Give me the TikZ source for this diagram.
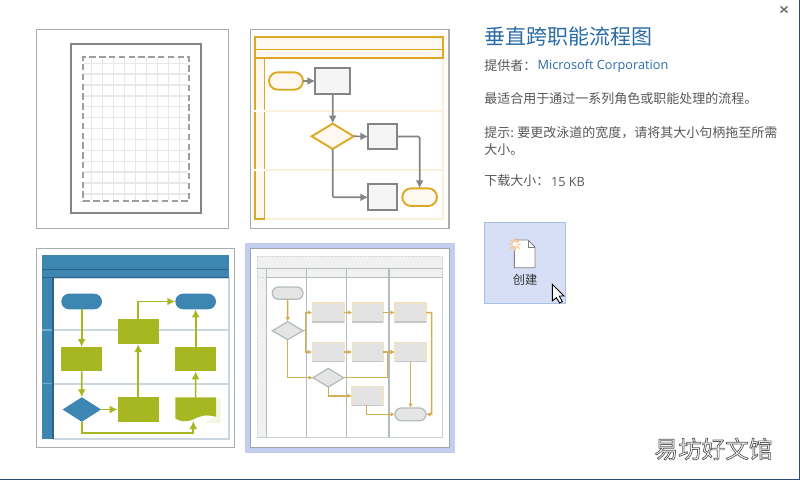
\documentclass[tikz,border=0pt]{standalone}
\usepackage{fontspec}
\setmainfont{Noto Sans CJK SC}
\newfontfamily\latfont{Open Sans}
\usetikzlibrary{arrows.meta,shapes.geometric,shapes.misc,patterns.meta,calc}
\definecolor{panelb}{HTML}{ABABAB}
\definecolor{gold}{HTML}{DFA822}
\definecolor{goldlt}{HTML}{FBF0DA}
\definecolor{cream}{HTML}{FFF8F0}
\definecolor{gr}{HTML}{858585}
\definecolor{blu}{HTML}{3E86B2}
\definecolor{bludk}{HTML}{2C6288}
\definecolor{lane}{HTML}{CAD7E0}
\definecolor{grn}{HTML}{A6B722}
\definecolor{selb}{HTML}{C2CEF0}
\definecolor{ochre}{HTML}{D2AE55}
\definecolor{band}{HTML}{F0F0F0}
\definecolor{sl}{HTML}{B2BEBB}
\definecolor{titlec}{HTML}{2B6CA8}
\definecolor{txt}{HTML}{585858}
\definecolor{btn}{HTML}{D6DFF6}
\definecolor{btnb}{HTML}{A9BEE5}
\definecolor{edge}{HTML}{2B4C80}
\newcommand\pxbox[6][]{\node[#1,minimum width={#5-#3},minimum height={#6-#4}] (#2) at ({(#3+#5)/2},{(#4+#6)/2}) {};}
\newcommand\fwcomma{\symbol{"FF0C}}
\newcommand\fwcolon{\symbol{"FF1A}}
\tikzset{
 base/.style={inner sep=0pt,outer sep=0pt},
 panel/.style={base,draw=panelb,line width=1.1pt,fill=white},
 rtwo/.style={base,draw=gr,line width=2pt,fill=black!4},
 ttwo/.style={base,draw=gold,line width=1.9pt,fill=cream,rounded rectangle},
 dtwo/.style={base,draw=gold,line width=1.9pt,fill=cream,diamond,aspect=1.65},
 atwo/.style={draw=gr,line width=1.7pt,rounded corners=1.5pt,-{Latex[length=8pt,width=8pt]}},
 bandtwo/.style={base,draw=gold,line width=1.6pt,fill=cream},
 bfill/.style={base,fill=blu},
 gfill/.style={base,fill=grn},
 athree/.style={draw=grn,line width=1.7pt,-{Latex[length=8pt,width=8pt]}},
 hatch/.style={base,draw=sl!60,line width=.8pt,fill=band,postaction={pattern={Lines[angle=45,distance=2.6pt,line width=.9pt]},pattern color=black!5}},
 rfour/.style={base,draw=ochre!35,line width=1.2pt,fill=black!11},
 tfour/.style={base,draw=sl,line width=1.3pt,fill=black!10,rounded rectangle},
 dfour/.style={base,draw=sl,line width=1.3pt,fill=black!10,diamond,aspect=1.65},
 afour/.style={draw=ochre,line width=1.5pt,-{Latex[length=4.5pt,width=4.5pt]}},
 lbl/.style={base,anchor=west,text=txt,font=\fontsize{13pt}{15pt}\selectfont},
}
\begin{document}
\begin{tikzpicture}[x=1pt,y=-1pt]
\useasboundingbox (0,0) rectangle (800,480);
\fill[white] (0,0) rectangle (800,480);
\draw[edge,line width=1pt] (0,479.5) -- (799.5,479.5) -- (799.5,0);
% panel 1
\pxbox[panel]{pa}{36.5}{29.5}{228.5}{228.5}
\foreach \x in {91.7,102.7,113.7,124.7,135.7,146.7,157.3,168.3,179.3}
  \draw[black!9,line width=1.2pt] (\x,58) -- (\x,200);
\foreach \y in {63.3,74,85,96,106.7,117.7,128.3,139.3,150.3,161.3,172,183,194}
  \draw[black!9,line width=1.2pt] (84,\y) -- (188,\y);
\pxbox[base,draw=black!38,line width=1.8pt,dash pattern=on 6.4pt off 3.4pt]{pai}{83.3}{56.7}{188.7}{201.3}
\pxbox[base,draw=gr,line width=2.2pt]{pao}{71.3}{44.3}{200.7}{213}
% panel 2
\pxbox[panel]{pb}{250.5}{29.5}{449}{228.5}
\draw[goldlt,line width=1.7pt] (264,58) -- (442.7,58) -- (442.7,219) -- (264,219);
\draw[goldlt,line width=1.7pt] (264,110.7) -- (442.7,110.7) (264,169.7) -- (442.7,169.7);
\pxbox[bandtwo]{pbh}{255}{36.7}{442.7}{49.3}
\pxbox[bandtwo]{pbs}{255}{49.3}{442.7}{58}
\pxbox[bandtwo]{pbl}{255}{58}{264.3}{219}
\draw[white,line width=1.6pt] (254,110.7) -- (265.2,110.7) (254,169.7) -- (265.2,169.7);
\pxbox[ttwo]{bt}{269}{72.3}{303}{89.7}
\pxbox[rtwo]{br}{315.3}{68}{350}{94}
\node[dtwo,minimum width=42pt,minimum height=25.4pt] (bd) at (332.7,136.3) {};
\pxbox[rtwo]{brb}{368.3}{123.7}{396.7}{149.3}
\pxbox[rtwo]{brc}{368.3}{184.3}{396.7}{210.3}
\pxbox[ttwo]{bte}{402.3}{188.3}{437}{206}
\draw[atwo] (bt) -- (br);
\draw[atwo] (br) -- (bd);
\draw[atwo] (bd.east) -- (brb.west);
\draw[atwo] (brb.east) -| (bte.north);
\draw[atwo] (bd.south) |- (brc.west);
% panel 3
\pxbox[panel]{pc}{36.5}{248.7}{234.5}{447.3}
\draw[lane,line width=1.6pt] (53,277.7) -- (229,277.7) -- (229,439) -- (53,439);
\draw[lane,line width=1.6pt] (42,330) -- (229,330) (42,383.7) -- (229,383.7);
\pxbox[bfill]{ch}{42}{255.3}{229}{269.3}
\pxbox[bfill]{cs}{42}{269.3}{229}{277.7}
\pxbox[bfill]{cl}{42}{277.7}{53}{439}
\draw[bludk,line width=1.1pt] (42,269.3) -- (229,269.3);
\draw[bludk,line width=1.1pt] (42,277.7) -- (229,277.7);
\draw[bludk,line width=1.1pt] (53,277.7) -- (53,439);
\draw[blu!70!white,line width=1.2pt] (42,330) -- (52.4,330) (42,383.7) -- (52.4,383.7);
\pxbox[bfill,rounded rectangle]{ct}{61.3}{293.7}{102}{309.3}
\pxbox[bfill,rounded rectangle]{cte}{175.3}{293.7}{216}{309.3}
\pxbox[gfill]{cra}{61.3}{347}{102}{371.3}
\pxbox[gfill]{crb}{117.7}{319.3}{158.7}{344}
\pxbox[gfill]{crc}{175.3}{347}{216}{371.3}
\pxbox[gfill]{crd}{117.7}{397.3}{158.7}{421.7}
\node[base,fill=blu,diamond,aspect=1.6,minimum width=38.5pt,minimum height=24.5pt] (cd) at (81.8,409.5) {};
\fill[grn!12] (216,399) -- (220.7,399) -- (220.7,423) -- (205,423) -- (216,416) -- cycle;
\fill[grn] (175.3,397.3) -- (216,397.3) -- (216,416.7) .. controls (205,414) and (200,416) .. (193,419.5) .. controls (186,422.5) and (180,421.5) .. (175.3,418.5) -- cycle;
\coordinate (cdoc) at (195.6,397.3);
\coordinate (cdocb) at (193.3,421);
\coordinate (cbend) at (193.3,432.7);
\draw[athree] (ct) -- (cra);
\draw[athree] (cra) -- (cd);
\draw[athree] (cd) -- (crd);
\draw[athree] (crd) -- (crb);
\draw[athree] (crb.north) |- (cte.west);
\draw[athree] (crc) -- (cte);
\draw[athree] (cdoc) -- (crc);
\draw[athree] (cd.south) |- (cbend) -- (cdocb);
% panel 4
\pxbox[base,fill=selb]{ps}{245}{243}{455}{453}
\pxbox[base,draw=black!35,line width=1.1pt,fill=white]{pd}{250.5}{248.5}{449.7}{447.7}
\pxbox[hatch]{dh}{257.3}{256.3}{442.3}{268.7}
\pxbox[hatch]{ds}{257.3}{268.7}{442.3}{277.3}
\pxbox[hatch]{dl}{257.3}{277.3}{266.7}{437.3}
\draw[sl,line width=1.2pt] (257.3,268.7) -- (442.3,268.7) (266.7,277.3) -- (442.3,277.3);
\foreach \x in {266.7,306.3,346.7,389} \draw[sl,line width=1.2pt] (\x,268.7) -- (\x,437.3);
\draw[sl!70,line width=1.2pt] (442.3,268.7) -- (442.3,437.3) -- (257.3,437.3);
\pxbox[tfour]{dt}{272.3}{287}{303}{299.3}
\node[dfour,minimum width=30.6pt,minimum height=18pt] (da) at (287.7,330.7) {};
\node[dfour,minimum width=30.6pt,minimum height=18.6pt] (db) at (328.3,377.7) {};
\pxbox[rfour]{raa}{312.3}{303}{344}{322}
\pxbox[rfour]{rab}{352.3}{303}{383.3}{322}
\pxbox[rfour]{rac}{395}{303}{426}{322}
\pxbox[rfour]{rba}{312.3}{342.3}{344}{361.7}
\pxbox[rfour]{rbb}{352.3}{342.3}{383.3}{361.7}
\pxbox[rfour]{rbc}{395}{342.3}{426}{361.7}
\pxbox[rfour]{rca}{352}{386.3}{383}{405.3}
\pxbox[tfour]{dte}{395}{408}{426}{420.7}
\foreach \n in {raa,rab,rac,rba,rbb,rbc,rca}
  \draw[black!22,line width=1.2pt] (\n.south west) -- (\n.south east);
\coordinate (dsp) at (305.3,330.7);
\coordinate (dup) at (387.3,377.7);
\coordinate (dupe) at (387.3,352);
\coordinate (dca) at (366.7,405.3);
\coordinate (drc) at (431.7,312.5);
\coordinate (drcb) at (431.7,414.4);
\draw[afour] (dt) -- (da);
\draw[afour] (da.east) -- (dsp) |- (raa.west);
\draw[afour] (dsp) |- (rba.west);
\draw[afour] (raa) -- (rab);
\draw[afour] (rab) -- (rac);
\draw[afour] (rba) -- (rbb);
\draw[afour] (rbb) -- (rbc);
\draw[afour] (da.south) |- (db.west);
\draw[afour] (db.east) -- (dup) -- (dupe) -- (rbc.west);
\draw[afour] (db.south) |- (rca.west);
\draw[afour] (dca) |- (dte.west);
\draw[afour] (rbc.south) -- (dte.north);
\draw[afour] (rac.east) -- (drc) -- (drcb) -- (dte.east);
% text panel
\node[base,anchor=west,text=titlec,font=\fontsize{21pt}{24pt}\selectfont] (title) at (484.3,36.7) {垂直跨职能流程图};
\node[lbl] (prov) at (484.3,65.5) {提供者\fwcolon};
\node[base,anchor=west,text=titlec,font=\latfont\fontsize{12.7pt}{15pt}\selectfont] (link) at (537.7,66) {\rule{0pt}{10pt}Microsoft Corporation};
\node[lbl] (best) at (484.3,99) {最适合用于通过一系列角色或职能处理的流程。};
\node[lbl] (tipa) at (484.3,132.7) {提示:\hspace{3.5pt}要更改泳道的宽度\fwcomma 请将其大小句柄拖至所需};
\node[lbl] (tipb) at (484.3,150) {大小。};
\node[lbl] (dlsz) at (484.3,181) {下载大小\fwcolon};
\node[base,anchor=west,text=txt,font=\latfont\fontsize{12.7pt}{15pt}\selectfont] (size) at (551,182) {\rule{0pt}{10pt}15 KB};
% close
\coordinate (xa) at (780.5,6.5); \coordinate (xb) at (787.5,12.5);
\coordinate (xc) at (787.5,6.5); \coordinate (xd) at (780.5,12.5);
\draw[black!55,line width=1.5pt] (xa) -- (xb) (xc) -- (xd);
% button
\pxbox[base,draw=btnb,line width=1pt,fill=btn]{btnbox}{484.3}{222.5}{565.7}{303.3}
\draw[black!50,fill=white,line width=.9pt] (514.3,240) -- (528,240) -- (535,247) -- (535,267.7) -- (514.3,267.7) -- cycle;
\draw[black!50,line width=.8pt] (528,240) -- (528,247) -- (535,247);
\foreach \a in {0,45,...,315}
  \draw[orange!45,line width=1.4pt] (515,244.3) -- ++(\a:6.3);
\fill[white] (515,244.3) circle (2.3);
\node[base,text=black!80,font=\fontsize{12.2pt}{15pt}\selectfont] (create) at (525,280) {创建};
\draw[black,fill=white,line width=.9pt,line join=miter]
  (552.3,284.3) -- (552.3,301) -- (556.3,297.7) -- (559.7,303) -- (562.3,301.7) -- (559.3,296) -- (564,296) -- cycle;
% watermark
\node[base,anchor=west,text=white,font=\fontsize{23.6pt}{28pt}\selectfont] (wm) at (654.5,449) {\special{pdf:code 2 Tr 0.7 w 0.35 G}易坊好文馆\special{pdf:code 0 Tr 0 G}};
\end{tikzpicture}
\end{document}
